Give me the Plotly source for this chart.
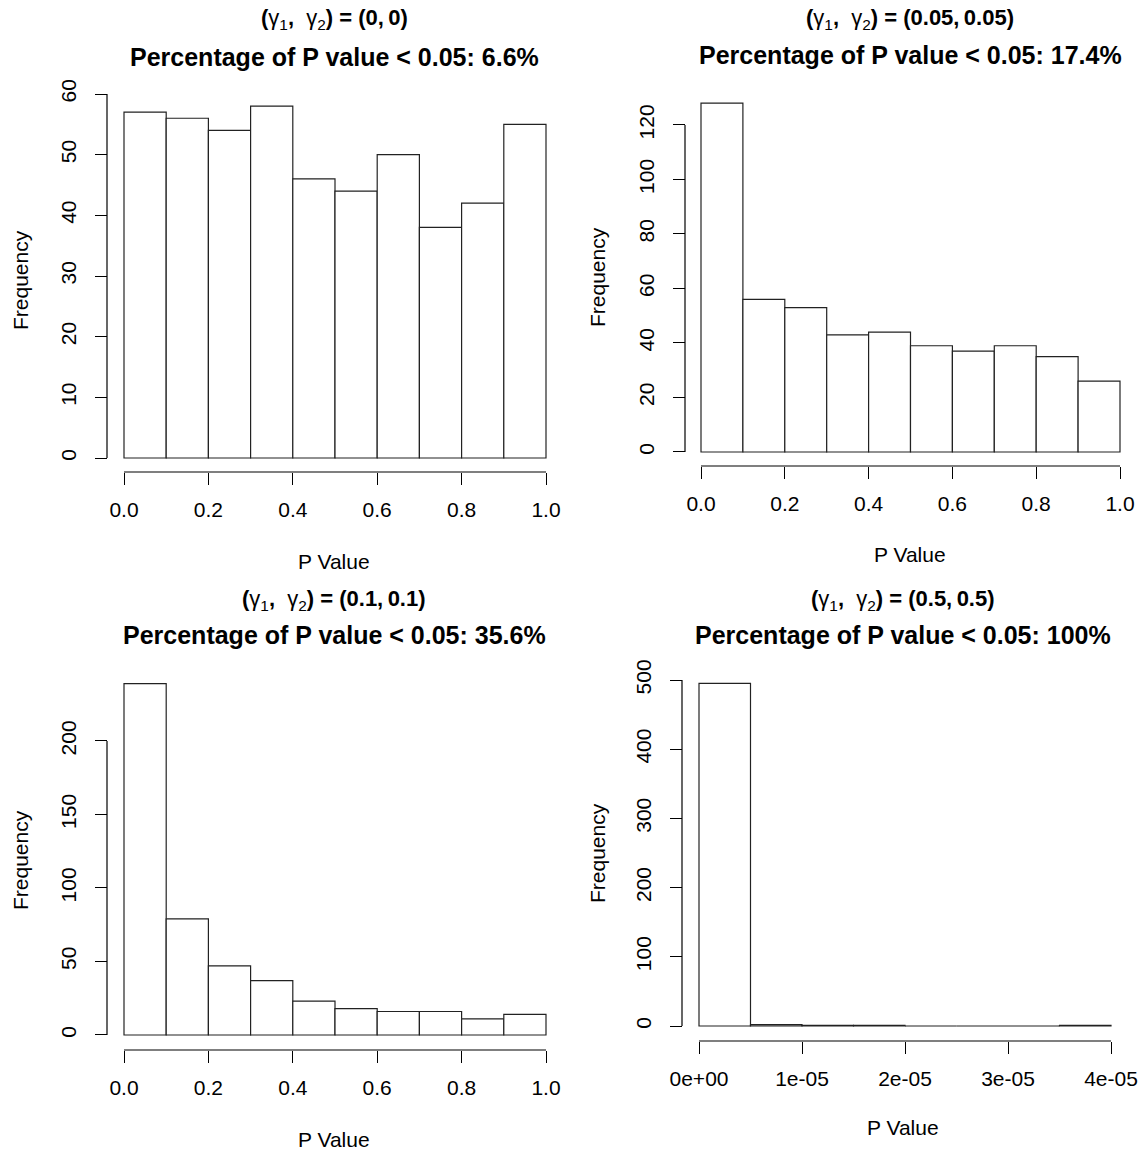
import plotly.graph_objects as go

W, H = 1143, 1153

# ---------------- data ----------------
edges_unit = [0.0, 0.1, 0.2, 0.3, 0.4, 0.5, 0.6, 0.7, 0.8, 0.9, 1.0]
counts_g0 = [57, 56, 54, 58, 46, 44, 50, 38, 42, 55]
counts_g005 = [128, 56, 53, 43, 44, 39, 37, 39, 35, 26]
counts_g01 = [239, 79, 47, 37, 23, 18, 16, 16, 11, 14]
edges_g05 = [0.0, 5e-6, 1e-5, 1.5e-5, 2e-5, 2.5e-5, 3e-5, 3.5e-5, 4e-5]
counts_g05 = [495, 2, 1, 1, 0, 0, 0, 1]

xticks_unit = [0.0, 0.2, 0.4, 0.6, 0.8, 1.0]
xticklabels_unit = ["0.0", "0.2", "0.4", "0.6", "0.8", "1.0"]
xticks_g05 = [0.0, 1e-5, 2e-5, 3e-5, 4e-5]
xticklabels_g05 = ["0e+00", "1e-05", "2e-05", "3e-05", "4e-05"]

yticks_g0 = [0, 10, 20, 30, 40, 50, 60]
yticks_g005 = [0, 20, 40, 60, 80, 100, 120]
yticks_g01 = [0, 50, 100, 150, 200]
yticks_g05 = [0, 100, 200, 300, 400, 500]

gamma_labels = ["(0,\u20090)", "(0.05,\u20090.05)", "(0.1,\u20090.1)", "(0.5,\u20090.5)"]
pct_labels = ["6.6%", "17.4%", "35.6%", "100%"]

# ---------------- layout calibration (pixels) ----------------
panels = [
    dict(edges=edges_unit, counts=counts_g0, xt=xticks_unit, xtl=xticklabels_unit, yt=yticks_g0,
         px0=124, px1=546, py0=458, pyt=94, xline=472, yline=107,
         t1=19, t2=57, tx=334, xlab=561, ylabx=20, ylaby=280),
    dict(edges=edges_unit, counts=counts_g005, xt=xticks_unit, xtl=xticklabels_unit, yt=yticks_g005,
         px0=701, px1=1120, py0=452, pyt=125, xline=466, yline=685,
         t1=19, t2=55, tx=910, xlab=554, ylabx=597, ylaby=277),
    dict(edges=edges_unit, counts=counts_g01, xt=xticks_unit, xtl=xticklabels_unit, yt=yticks_g01,
         px0=124, px1=546, py0=1035, pyt=741, xline=1050, yline=107,
         t1=600, t2=635, tx=334, xlab=1139, ylabx=20, ylaby=860),
    dict(edges=edges_g05, counts=counts_g05, xt=xticks_g05, xtl=xticklabels_g05, yt=yticks_g05,
         px0=699, px1=1111, py0=1026, pyt=680, xline=1041, yline=682,
         t1=600, t2=635, tx=903, xlab=1127, ylabx=597, ylaby=853),
]

FONT = "Liberation Sans, Arial, sans-serif"


def fx(px):
    return px / W


def fy(py):
    return 1 - py / H


fig = go.Figure()
shapes = []
annotations = []
layout_axes = {}

for i, p in enumerate(panels):
    n = "" if i == 0 else str(i + 1)
    xa, ya = "x" + n, "y" + n
    edges, counts = p["edges"], p["counts"]
    centers = [(edges[k] + edges[k + 1]) / 2 for k in range(len(counts))]
    widths = [edges[k + 1] - edges[k] for k in range(len(counts))]

    fig.add_trace(go.Bar(
        x=centers, y=counts, width=widths, xaxis=xa, yaxis=ya,
        marker=dict(color="white", line=dict(color="#222", width=1.2)),
        showlegend=False, hoverinfo="x+y"))

    # x mapping
    xt = p["xt"]
    span = xt[-1] - xt[0]
    kx = (p["px1"] - p["px0"]) / span
    xr = [xt[0] - 0.04 * span, xt[-1] + 0.04 * span]
    xdom = [fx(p["px0"] + (xr[0] - xt[0]) * kx), fx(p["px0"] + (xr[1] - xt[0]) * kx)]

    # y mapping
    yt = p["yt"]
    ky = (p["py0"] - p["pyt"]) / (yt[-1] - yt[0])
    ytop = max(max(counts), yt[-1])
    yr = [-0.04 * ytop, 1.04 * ytop]
    ydom = [fy(p["py0"] - yr[0] * ky), fy(p["py0"] - yr[1] * ky)]

    layout_axes["xaxis" + n] = dict(
        domain=xdom, range=xr, anchor="free", position=fy(p["xline"]), automargin=False,
        showline=False, showgrid=False, zeroline=False,
        ticks="outside", ticklen=12, tickwidth=1.2, tickcolor="black",
        tickmode="array", tickvals=xt, ticktext=p["xtl"],
        tickfont=dict(family=FONT, size=21, color="black"), ticklabelstandoff=7)
    layout_axes["yaxis" + n] = dict(
        domain=ydom, range=yr, anchor="free", position=fx(p["yline"]), automargin=False,
        showline=False, showgrid=False, zeroline=False,
        ticks="outside", ticklen=12, tickwidth=1.2, tickcolor="black",
        tickmode="array", tickvals=yt, ticktext=[str(v) for v in yt], tickangle=-90,
        tickfont=dict(family=FONT, size=21, color="black"), ticklabelstandoff=11)

    # axis lines spanning first to last tick (R style)
    shapes.append(dict(type="line", xref=xa, yref="paper", x0=xt[0], x1=xt[-1],
                       y0=fy(p["xline"]), y1=fy(p["xline"]), line=dict(color="black", width=1.2)))
    shapes.append(dict(type="line", xref="paper", yref=ya, x0=fx(p["yline"]), x1=fx(p["yline"]),
                       y0=yt[0], y1=yt[-1], line=dict(color="black", width=1.2)))

    # titles
    annotations.append(dict(
        text="<b>(</b>γ<sub>1</sub><b>,</b>  γ<sub>2</sub><b>) = " + gamma_labels[i] + "</b>",
        x=fx(p["tx"]), y=fy(p["t1"]), xref="paper", yref="paper",
        xanchor="center", yanchor="middle", showarrow=False,
        font=dict(family=FONT, size=22, color="black")))
    annotations.append(dict(
        text="<b>Percentage of P value < 0.05: " + pct_labels[i] + "</b>",
        x=fx(p["tx"]), y=fy(p["t2"]), xref="paper", yref="paper",
        xanchor="center", yanchor="middle", showarrow=False,
        font=dict(family=FONT, size=25, color="black")))
    annotations.append(dict(
        text="P Value", x=fx(p["tx"]), y=fy(p["xlab"]), xref="paper", yref="paper",
        xanchor="center", yanchor="middle", showarrow=False,
        font=dict(family=FONT, size=21, color="black")))
    annotations.append(dict(
        text="Frequency", x=fx(p["ylabx"]), y=fy(p["ylaby"]), xref="paper", yref="paper",
        xanchor="center", yanchor="middle", showarrow=False, textangle=-90,
        font=dict(family=FONT, size=21, color="black")))

fig.update_layout(
    width=W, height=H, autosize=False,
    margin=dict(l=0, r=0, t=0, b=0, autoexpand=False),
    paper_bgcolor="white", plot_bgcolor="white",
    shapes=shapes, annotations=annotations, showlegend=False,
    **layout_axes)

fig.write_html("out.html")
